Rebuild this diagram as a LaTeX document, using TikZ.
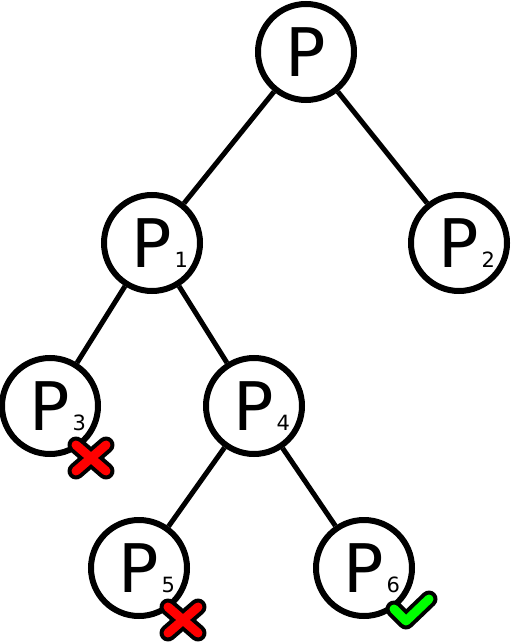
\documentclass[tikz,border=0pt]{standalone}
\usepackage{fontspec}
\setmainfont{DejaVu Sans}
\usetikzlibrary{positioning}

% subscript hanging right of the P
\newcommand{\psub}[1]{\rlap{\hspace{2.5pt}{\fontsize{21}{21}\selectfont #1}}}

\begin{document}
\begin{tikzpicture}[
  x=1pt, y=-1pt,
  vertex/.style={circle, draw, line width=6pt, minimum size=96pt, inner sep=0pt,
    font=\fontsize{67}{67}\selectfont},
  edge/.style={line width=5pt},
  markout/.style={line width=17pt, line cap=round, line join=round},
  markin/.style={line width=9pt, line cap=round, line join=round}
]
\useasboundingbox (0,0) rectangle (512,644);

% Nodes
\node[vertex] (p)  at (306,52)  {P};
\node[vertex] (p1) at (152,243) {P\psub{1}};
\node[vertex] (p2) at (459,243) {P\psub{2}};
\node[vertex] (p3) at (50,406)  {P\psub{3}};
\node[vertex] (p4) at (254,406) {P\psub{4}};
\node[vertex] (p5) at (139,568) {P\psub{5}};
\node[vertex] (p6) at (364,568) {P\psub{6}};

% Edges
\draw[edge] (p)  -- (p1);
\draw[edge] (p)  -- (p2);
\draw[edge] (p1) -- (p3);
\draw[edge] (p1) -- (p4);
\draw[edge] (p4) -- (p5);
\draw[edge] (p4) -- (p6);

% Rejected: red crosses
\coordinate (x3) at (91,458);
\coordinate (x5) at (183,620);
\foreach \c in {x3,x5} {
  \draw[markout] ([shift={(-15,-13)}]\c) -- ([shift={(15,13)}]\c)
                 ([shift={(-15,13)}]\c) -- ([shift={(15,-13)}]\c);
  \draw[markin, red] ([shift={(-15,-13)}]\c) -- ([shift={(15,13)}]\c)
                     ([shift={(-15,13)}]\c) -- ([shift={(15,-13)}]\c);
}

% Accepted: green tick
\coordinate (ok) at (410,610);
\draw[markout] ([shift={(-16,-1)}]ok) -- ([shift={(-4,11)}]ok) -- ([shift={(19,-11)}]ok);
\draw[markin, green] ([shift={(-16,-1)}]ok) -- ([shift={(-4,11)}]ok) -- ([shift={(19,-11)}]ok);

\end{tikzpicture}
\end{document}
